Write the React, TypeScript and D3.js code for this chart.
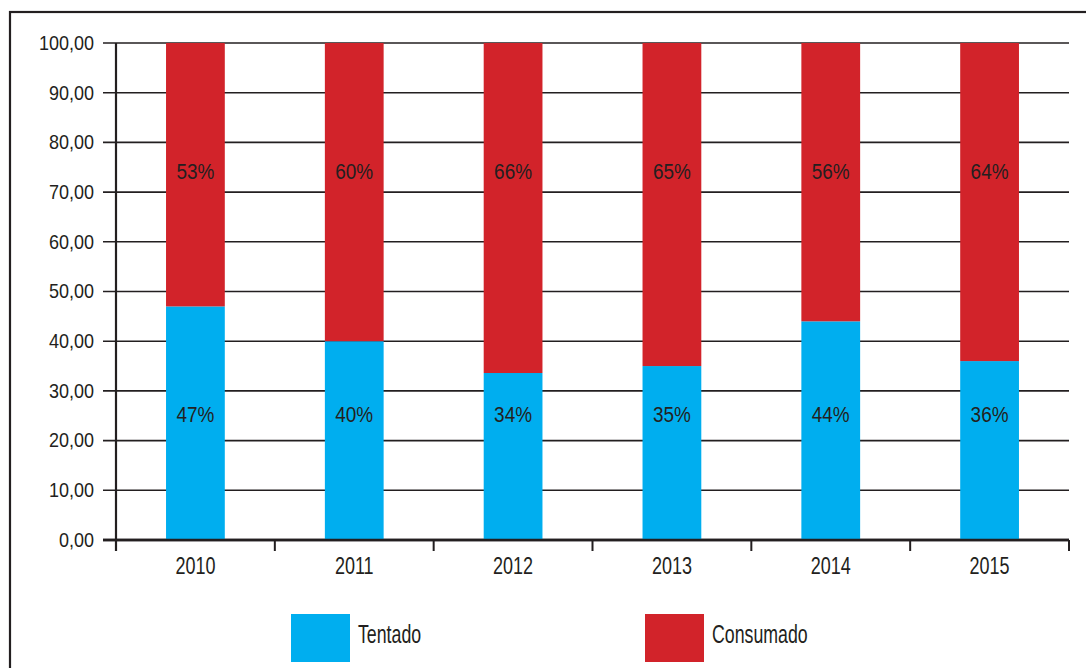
import React from "react";
import * as d3 from "d3";

const years = ["2010", "2011", "2012", "2013", "2014", "2015"];
const tentado = [47, 40, 33.6, 35, 44, 36];
const consumado = [53, 60, 66.4, 65, 56, 64];
const yTicks = [0, 10, 20, 30, 40, 50, 60, 70, 80, 90, 100];
const legendItems = ["Tentado", "Consumado"];

const BLUE = "#00AEEF";
const RED = "#D2232A";
const INK = "#231F20";
const FONT = "'Liberation Sans', Arial, sans-serif";

function NText(props: {
  x: number;
  y: number;
  sx: number;
  size: number;
  anchor?: string;
  baseline?: string;
  children: React.ReactNode;
}) {
  return (
    <text
      transform={`translate(${props.x},${props.y}) scale(${props.sx},1)`}
      textAnchor={props.anchor || "start"}
      dominantBaseline={props.baseline || "auto"}
      fontSize={props.size}
      fill={INK}
    >
      {props.children}
    </text>
  );
}

export default function App() {
  const W = 1086;
  const H = 668;
  const left = 116;
  const right = 1069;
  const top = 43;
  const bottom = 540;

  const y = d3.scaleLinear().domain([0, 100]).range([bottom, top]);
  const x = d3
    .scaleBand<string>()
    .domain(years)
    .range([left, right])
    .paddingInner(0.63)
    .paddingOuter(0.315);
  const step = x.step();
  const bw = x.bandwidth();
  const boundaries = years.map((yr) => (x(yr) as number) - (step - bw) / 2);
  boundaries.push(right);

  const fmt = (v: number) => d3.format(".2f")(v).replace(".", ",");
  const legendX = [291, 645];
  const colors = [BLUE, RED];

  return (
    <svg
      width={W}
      height={H}
      style={{ position: "absolute", left: 0, top: 0, background: "#fff" }}
      fontFamily={FONT}
    >
      <rect x={10} y={12} width={1200} height={800} fill="#fff" stroke={INK} strokeWidth={2.2} />
      {yTicks.map((t) => (
        <line
          key={"g" + t}
          x1={103}
          x2={right}
          y1={y(t)}
          y2={y(t)}
          stroke={INK}
          strokeWidth={t === 0 ? 2.4 : 1.6}
        />
      ))}
      {years.map((yr, i) => {
        const cx = (x(yr) as number) + bw / 2;
        return (
          <g key={"b" + yr}>
            <rect x={x(yr)} y={y(tentado[i])} width={bw} height={y(0) - y(tentado[i])} fill={BLUE} />
            <rect
              x={x(yr)}
              y={y(tentado[i] + consumado[i])}
              width={bw}
              height={y(tentado[i]) - y(tentado[i] + consumado[i])}
              fill={RED}
            />
            <NText x={cx} y={y(25.3)} sx={0.85} size={22.3} anchor="middle" baseline="central">
              {Math.round(tentado[i]) + "%"}
            </NText>
            <NText x={cx} y={y(74.3)} sx={0.85} size={22.3} anchor="middle" baseline="central">
              {Math.round(consumado[i]) + "%"}
            </NText>
          </g>
        );
      })}
      <line x1={103} x2={right} y1={y(0)} y2={y(0)} stroke={INK} strokeWidth={2.4} />
      <line x1={left} x2={left} y1={top} y2={551} stroke={INK} strokeWidth={2.2} />
      {boundaries.map((b, i) => (
        <line key={"t" + i} x1={b} x2={b} y1={y(0)} y2={551} stroke={INK} strokeWidth={2} />
      ))}
      {yTicks.map((t) => (
        <NText key={"yl" + t} x={94} y={y(t)} sx={0.9} size={20} anchor="end" baseline="central">
          {fmt(t)}
        </NText>
      ))}
      {years.map((yr) => (
        <NText key={"xl" + yr} x={(x(yr) as number) + bw / 2} y={574} sx={0.76} size={23.7} anchor="middle">
          {yr}
        </NText>
      ))}
      {legendItems.map((name, i) => (
        <g key={"l" + name}>
          <rect x={legendX[i]} y={614} width={59} height={48} fill={colors[i]} />
          <NText x={legendX[i] + 67} y={643} sx={0.71} size={25}>
            {name}
          </NText>
        </g>
      ))}
    </svg>
  );
}
